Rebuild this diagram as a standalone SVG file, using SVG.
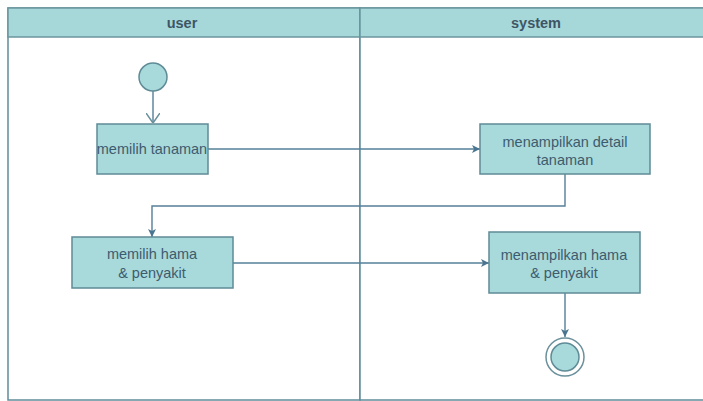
<svg xmlns="http://www.w3.org/2000/svg" width="703" height="401" viewBox="0 0 703 401">
  <style>
    .lane { fill: #ffffff; stroke: #5f8c99; stroke-width: 1.5; }
    .head { fill: #a6d8da; stroke: #6a969e; stroke-width: 1.5; }
    .htxt { font-family: "Liberation Sans", Arial, sans-serif; font-size: 14.5px; font-weight: bold; fill: #3e5566; text-anchor: middle; }
    .act { fill: #a8d9db; stroke: #5f8b96; stroke-width: 1.5; }
    .txt { font-family: "Liberation Sans", Arial, sans-serif; font-size: 14.5px; fill: #3d5c6e; text-anchor: middle; }
    .edge { fill: none; stroke: #557f99; stroke-width: 1.4; }
    .start { fill: #a8d9db; stroke: #5f8b96; stroke-width: 1.5; }
  </style>
  <defs>
    <marker id="tri" viewBox="0 0 10 10" refX="10" refY="5" markerWidth="8" markerHeight="8" markerUnits="userSpaceOnUse" orient="auto">
      <path d="M0,0 L10,5 L0,10 L2.5,5 Z" fill="#4a7590"/>
    </marker>
    <marker id="open" viewBox="0 0 10 10" refX="10" refY="5" markerWidth="10" markerHeight="14" markerUnits="userSpaceOnUse" orient="auto" preserveAspectRatio="none">
      <path d="M0,0 L10,5 L0,10" fill="none" stroke="#6a909c" stroke-width="1.2"/>
    </marker>
  </defs>

  <rect x="0" y="0" width="703" height="401" fill="#fdfefe"/>

  <!-- swimlanes -->
  <g id="lane-user">
    <rect class="lane" x="8" y="8" width="352" height="392"/>
    <rect class="head" x="8" y="8" width="352" height="29"/>
    <text class="htxt" x="182" y="27.5">user</text>
  </g>
  <g id="lane-system">
    <rect class="lane" x="360" y="8" width="350" height="392"/>
    <rect class="head" x="360" y="8" width="350" height="29"/>
    <text class="htxt" x="536" y="27.5">system</text>
  </g>

  <!-- connectors -->
  <g id="connectors">
    <path class="edge" d="M153,91 L153,123" stroke="#6a909c" marker-end="url(#open)"/>
    <path class="edge" d="M208,149 L480,149" marker-end="url(#tri)"/>
    <path class="edge" d="M565,174 L565,206 L152,206 L152,237" marker-end="url(#tri)"/>
    <path class="edge" d="M233,263 L489,263" marker-end="url(#tri)"/>
    <path class="edge" d="M565,293 L565,337" marker-end="url(#tri)"/>
  </g>

  <!-- nodes -->
  <g id="start">
    <circle class="start" cx="153" cy="77" r="14"/>
  </g>
  <g id="memilih-tanaman">
    <rect class="act" x="97" y="124" width="111" height="50"/>
    <text class="txt" x="152" y="154">memilih tanaman</text>
  </g>
  <g id="menampilkan-detail">
    <rect class="act" x="480" y="124" width="170" height="50"/>
    <text class="txt" x="565" y="147">menampilkan detail</text>
    <text class="txt" x="565" y="164.5">tanaman</text>
  </g>
  <g id="memilih-hama">
    <rect class="act" x="72" y="237" width="161" height="51"/>
    <text class="txt" x="152" y="259">memilih hama</text>
    <text class="txt" x="152" y="277.5">&amp; penyakit</text>
  </g>
  <g id="menampilkan-hama">
    <rect class="act" x="489" y="232" width="151" height="61"/>
    <text class="txt" x="564" y="259.5">menampilkan hama</text>
    <text class="txt" x="564" y="278">&amp; penyakit</text>
  </g>
  <g id="end">
    <circle cx="565" cy="357" r="19" fill="#ffffff" stroke="#6a909c" stroke-width="1.5"/>
    <circle cx="565" cy="357" r="14" fill="#a8d9db" stroke="#5f8b96" stroke-width="1.5"/>
  </g>
</svg>
